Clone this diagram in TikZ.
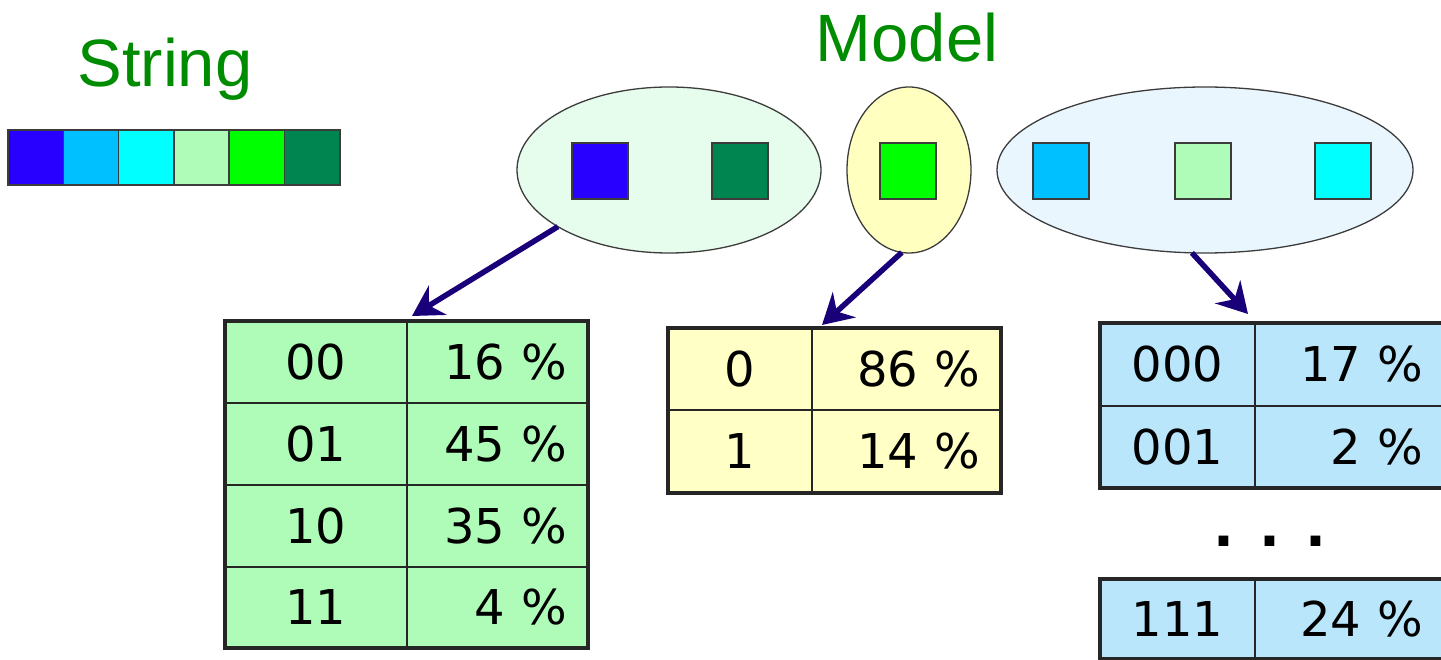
\documentclass[tikz,border=0pt]{standalone}
\usepackage{fontspec}
\setmainfont{DejaVu Sans}
\newfontfamily\titlefont{Liberation Sans}
\usetikzlibrary{shapes.geometric,arrows.meta}
\definecolor{titlegreen}{RGB}{0,140,0}
\definecolor{cA}{RGB}{40,0,255}
\definecolor{cB}{RGB}{0,192,255}
\definecolor{cC}{RGB}{0,255,255}
\definecolor{cD}{RGB}{174,252,184}
\definecolor{cE}{RGB}{0,255,0}
\definecolor{cF}{RGB}{0,133,80}
\definecolor{eA}{RGB}{230,252,236}
\definecolor{eB}{RGB}{255,255,192}
\definecolor{eC}{RGB}{234,246,254}
\definecolor{tA}{RGB}{175,252,185}
\definecolor{tB}{RGB}{255,255,198}
\definecolor{tC}{RGB}{186,230,252}
\definecolor{arrowblue}{RGB}{25,0,120}
\definecolor{edgegray}{RGB}{60,60,60}
\begin{document}
\begin{tikzpicture}[x=1pt,y=-1pt,
  title/.style={font=\titlefont\fontsize{67}{80}\selectfont, text=titlegreen, inner sep=0pt, anchor=base},
  ell/.style={ellipse, draw=edgegray, line width=1.3pt, inner sep=0pt, outer sep=0pt},
  sq/.style={rectangle, draw=edgegray, line width=1.3pt, minimum size=56pt, inner sep=0pt, outer sep=0pt},
  barcell/.style={rectangle, draw=edgegray, line width=1.5pt, minimum width=55.3pt, minimum height=55pt, inner sep=0pt, outer sep=0pt, anchor=north west},
  cell/.style={rectangle, draw=black!85, line width=2pt, inner ysep=0pt, outer sep=0pt, anchor=north west, font=\fontsize{48}{56}\selectfont},
  lc/.style={cell, inner xsep=0pt, align=center},
  rc/.style={cell, inner xsep=21pt, align=right},
  outer/.style={draw=black!85, line width=4pt},
  arr/.style={draw=arrowblue, line width=5.5pt, -{Stealth[length=30pt,width=34pt,inset=10pt]}}
]
\useasboundingbox (0,0) rectangle (1441,660);
\clip (0,0) rectangle (1441,660);
\fill[white] (0,0) rectangle (1441,660);

% titles
\node[title] (tstring) at (165,87) {String};
\node[title] (tmodel) at (907,62) {Model};

% string bar
\node[barcell, fill=cA] (b1) at (8,130) {};
\node[barcell, fill=cB] (b2) at (63.3,130) {};
\node[barcell, fill=cC] (b3) at (118.6,130) {};
\node[barcell, fill=cD] (b4) at (173.9,130) {};
\node[barcell, fill=cE] (b5) at (229.2,130) {};
\node[barcell, fill=cF] (b6) at (284.5,130) {};

% ellipses
\node[ell, fill=eA, minimum width=304pt, minimum height=166pt] (E1) at (669,170) {};
\node[ell, fill=eB, minimum width=124pt, minimum height=166pt] (E2) at (909,170) {};
\node[ell, fill=eC, minimum width=416pt, minimum height=166pt] (E3) at (1205,170) {};

\node[sq, fill=cA] (s1) at (600,171) {};
\node[sq, fill=cF] (s2) at (740,171) {};
\node[sq, fill=cE] (s3) at (908,171) {};
\node[sq, fill=cB] (s4) at (1061,171) {};
\node[sq, fill=cD] (s5) at (1203,171) {};
\node[sq, fill=cC] (s6) at (1343,171) {};

% table 1
\node[lc, fill=tA, text width=182pt, minimum height=82pt] (a1) at (225,321) {00};
\node[rc, fill=tA, text width=139pt, minimum height=82pt] (a2) at (407,321) {16 \%};
\node[lc, fill=tA, text width=182pt, minimum height=82pt] (a3) at (225,403) {01};
\node[rc, fill=tA, text width=139pt, minimum height=82pt] (a4) at (407,403) {45 \%};
\node[lc, fill=tA, text width=182pt, minimum height=82pt] (a5) at (225,485) {10};
\node[rc, fill=tA, text width=139pt, minimum height=82pt] (a6) at (407,485) {35 \%};
\node[lc, fill=tA, text width=182pt, minimum height=81pt] (a7) at (225,567) {11};
\node[rc, fill=tA, text width=139pt, minimum height=81pt] (a8) at (407,567) {4 \%};
\draw[outer] (a1.north west) rectangle (a8.south east);

% table 2
\node[lc, fill=tB, text width=144pt, minimum height=82pt] (m1) at (668,328) {0};
\node[rc, fill=tB, text width=147pt, minimum height=82pt] (m2) at (812,328) {86 \%};
\node[lc, fill=tB, text width=144pt, minimum height=83pt] (m3) at (668,410) {1};
\node[rc, fill=tB, text width=147pt, minimum height=83pt] (m4) at (812,410) {14 \%};
\draw[outer] (m1.north west) rectangle (m4.south east);

% table 3
\node[lc, fill=tC, text width=155pt, minimum height=83pt] (r1) at (1100,323) {000};
\node[rc, fill=tC, text width=146pt, minimum height=83pt, inner xsep=22pt] (r2) at (1255,323) {17 \%};
\node[lc, fill=tC, text width=155pt, minimum height=82pt] (r3) at (1100,406) {001};
\node[rc, fill=tC, text width=146pt, minimum height=82pt, inner xsep=22pt] (r4) at (1255,406) {2 \%};
\draw[outer] (r1.north west) rectangle (r4.south east);

\node[font=\bfseries\fontsize{55}{60}\selectfont, inner sep=0pt] (dots) at (1270,541) {. . .};

\node[lc, fill=tC, text width=155pt, minimum height=80pt] (r5) at (1100,579) {111};
\node[rc, fill=tC, text width=146pt, minimum height=80pt, inner xsep=22pt] (r6) at (1255,579) {24 \%};
\draw[outer] (r5.north west) rectangle (r6.south east);

% arrows
\coordinate (k1) at (412,316);
\coordinate (k2) at (822,325);
\coordinate (k3) at (1248,314);
\draw[arr] (E1.207) -- (k1);
\draw[arr] (E2.265) -- (k2);
\draw[arr] (E3.261) -- (k3);
\end{tikzpicture}
\end{document}
